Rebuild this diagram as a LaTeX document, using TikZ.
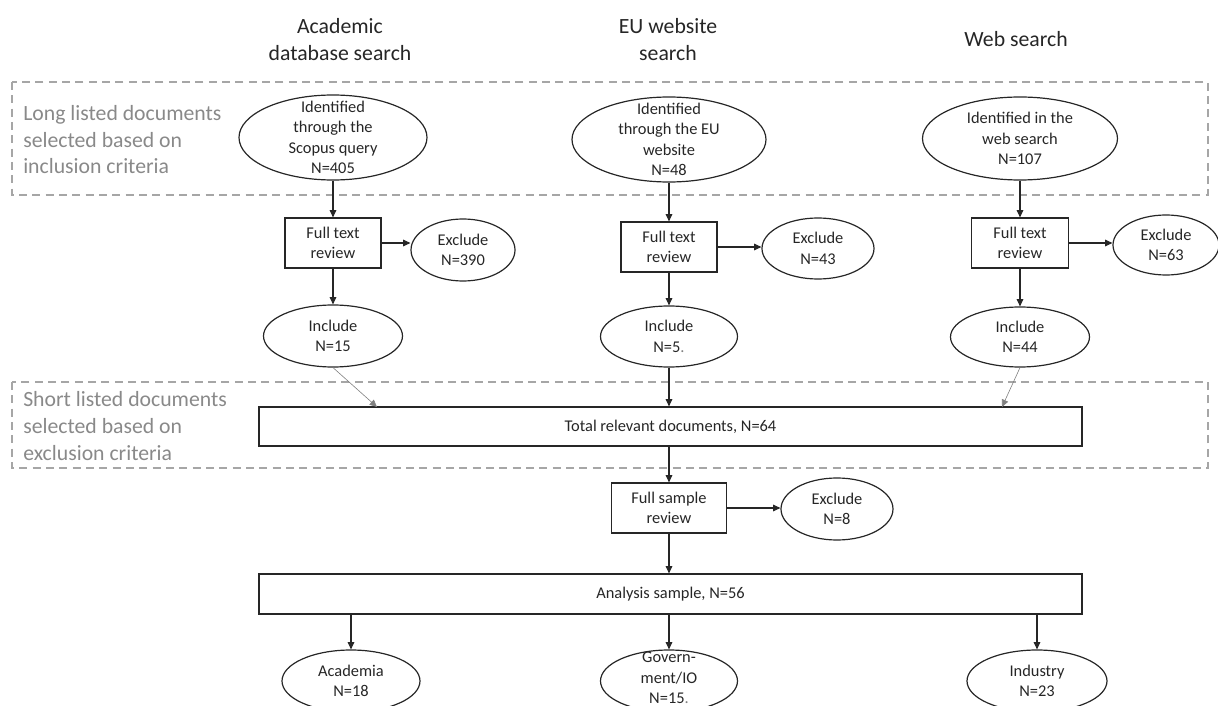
\documentclass[tikz,border=0pt]{standalone}
\usepackage{fontspec}
\setmainfont{Carlito}
\usetikzlibrary{arrows.meta,shapes.geometric}
\definecolor{dashgray}{RGB}{166,166,166}
\definecolor{labelgray}{RGB}{137,137,137}
\definecolor{ink}{RGB}{38,38,38}
\def\px{0.75pt}
\begin{document}
\begin{tikzpicture}[x=0.75pt,y=-0.75pt,
  ell/.style={draw=ink, line width=0.9pt, ellipse, inner sep=0pt},
  etxt/.style={align=center, inner sep=0pt, text=ink, font=\fontsize{12.3}{15.4}\selectfont},
  boxn/.style={draw=ink, line width=0.9pt, rectangle, inner sep=0pt, align=center, text=ink, font=\fontsize{12.3}{15.4}\selectfont},
  head/.style={align=center, inner sep=0pt, text=ink, font=\fontsize{16.3}{20.2}\selectfont},
  side/.style={align=left, inner sep=0pt, anchor=west, text=labelgray, font=\fontsize{16.3}{19.9}\selectfont},
  frame/.style={draw=dashgray, line width=1.1pt, dash pattern=on 6pt off 4pt},
  arr/.style={draw=ink, line width=0.8pt, -{Triangle[length=5.5pt,width=5pt]}},
  thinarr/.style={draw=gray, line width=0.45pt, -{Triangle[length=5.5pt,width=5pt]}}
]
\useasboundingbox (0,0) rectangle (1218,706);

% headers
\node[head] (h1) at (340,40) {Academic\\database search};
\node[head] (h2) at (668,40) {EU website\\search};
\node[head] (h3) at (1016,39) {Web search};

% dashed frames
\draw[frame] (12,82) rectangle (1208,195);
\draw[frame] (12,382) rectangle (1208,468);
\node[side] (s1) at (23,140) {Long listed documents\\selected based on\\inclusion criteria};
\node[side] (s2) at (23,426) {Short listed documents\\selected based on\\exclusion criteria};

% identified ellipses
\node[ell, minimum width=188*\px, minimum height=85*\px] (e1) at (333,137.5) {};
\node[etxt] (e1t) at (e1) {Identified\\through the\\Scopus query\\N=405};
\node[ell, minimum width=194*\px, minimum height=85*\px] (e2) at (669,139.5) {};
\node[etxt] (e2t) at (e2) {Identified\\through the EU\\website\\N=48};
\node[ell, minimum width=195*\px, minimum height=83*\px] (e3) at (1020,138.5) {};
\node[etxt] (e3t) at (e3) {Identified in the\\web search\\N=107};

% full text review boxes
\node[boxn, minimum width=96*\px, minimum height=50*\px] (b1) at (333,243) {Full text\\review};
\node[boxn, minimum width=96*\px, minimum height=50*\px] (b2) at (669,247) {Full text\\review};
\node[boxn, minimum width=97*\px, minimum height=50*\px] (b3) at (1020,243) {Full text\\review};

% exclude ellipses
\node[ell, minimum width=104*\px, minimum height=62*\px] (x1) at (463,250) {};
\node[etxt] (x1t) at (x1) {Exclude\\N=390};
\node[ell, minimum width=112*\px, minimum height=61*\px] (x2) at (818,248.5) {};
\node[etxt] (x2t) at (x2) {Exclude\\N=43};
\node[ell, minimum width=106*\px, minimum height=60*\px] (x3) at (1166,245) {};
\node[etxt] (x3t) at (x3) {Exclude\\N=63};

% include ellipses
\node[ell, minimum width=139*\px, minimum height=62*\px] (i1) at (333,336) {};
\node[etxt] (i1t) at (i1) {Include\\N=15};
\node[ell, minimum width=137*\px, minimum height=61*\px] (i2) at (669,336.5) {};
\node[etxt] (i2t) at (i2) {Include\\N=5{\color{gray}.}};
\node[ell, minimum width=139*\px, minimum height=60*\px] (i3) at (1020,337) {};
\node[etxt] (i3t) at (i3) {Include\\N=44};

% total box
\node[boxn, minimum width=823*\px, minimum height=39*\px] (tot) at (670.5,426.5) {Total relevant documents, N=64};
\coordinate (t1) at (377,407);
\coordinate (t3) at (1002,407);

% full sample review
\node[boxn, minimum width=115*\px, minimum height=50*\px] (fs) at (669,508) {Full sample\\review};
\node[ell, minimum width=112*\px, minimum height=62*\px] (x4) at (837,509) {};
\node[etxt] (x4t) at (x4) {Exclude\\N=8};

% analysis sample
\node[boxn, minimum width=823*\px, minimum height=40*\px] (ana) at (670.5,594) {Analysis sample, N=56};

% bottom ellipses
\node[ell, minimum width=138*\px, minimum height=62*\px] (ac) at (351,681) {};
\node[etxt] (act) at (ac) {Academia\\N=18};
\node[ell, minimum width=137*\px, minimum height=62*\px] (gov) at (669,681) {};
\node[etxt] (govt) at (669,678) {Govern-\\ment/IO\\N=15{\color{gray}.}};
\node[ell, minimum width=140*\px, minimum height=62*\px] (ind) at (1037,681) {};
\node[etxt] (indt) at (ind) {Industry\\N=23};

% connectors
\draw[arr] (e1.south) -- (b1.north);
\draw[arr] (e2.south) -- (b2.north);
\draw[arr] (e3.south) -- (b3.north);
\draw[arr] (b1.east) -- (b1.east -| x1.west);
\draw[arr] (b2.east) -- (b2.east -| x2.west);
\draw[arr] (b3.east) -- (b3.east -| x3.west);
\draw[arr] (b1.south) -- (i1.north);
\draw[arr] (b2.south) -- (i2.north);
\draw[arr] (b3.south) -- (i3.north);
\draw[thinarr] (i1.south) -- (t1);
\draw[arr] (i2.south) -- (i2.south |- tot.north);
\draw[thinarr] (i3.south) -- (t3);
\draw[arr] (fs.north |- tot.south) -- (fs.north);
\draw[arr] (fs.east) -- (fs.east -| x4.west);
\draw[arr] (fs.south) -- (fs.south |- ana.north);
\draw[arr] (ac.north |- ana.south) -- (ac.north);
\draw[arr] (gov.north |- ana.south) -- (gov.north);
\draw[arr] (ind.north |- ana.south) -- (ind.north);
\end{tikzpicture}
\end{document}
